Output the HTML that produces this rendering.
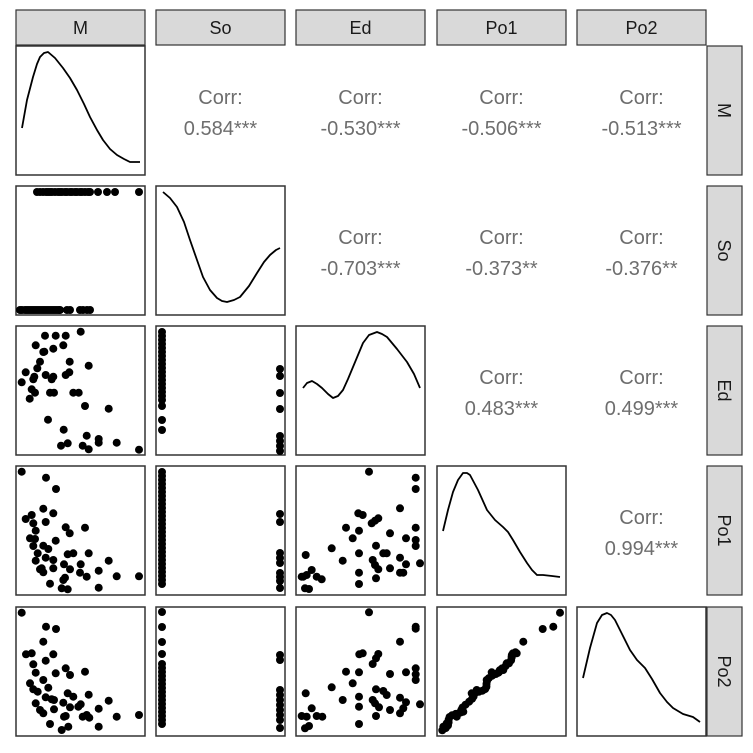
<!DOCTYPE html>
<html><head><meta charset="utf-8"><style>
html,body{margin:0;padding:0;background:#fff;overflow:hidden;}
svg{display:block;font-family:"Liberation Sans",Arial,sans-serif;}
</style></head><body>
<svg id="s" width="753" height="753" viewBox="0 0 753 753" xmlns="http://www.w3.org/2000/svg"></svg>
<script>
const S=document.getElementById('s');let h='';
const cx=[16,156,296,437,577],ry=[46,186,326,466,607],W=129,H=129;
const names=['M','So','Ed','Po1','Po2'];
for(let i=0;i<5;i++){
 h+=`<rect x="${cx[i]}" y="10" width="${W}" height="35" fill="#d9d9d9" stroke="#333" stroke-width="1.2"/>`;
 h+=`<text x="${cx[i]+W/2}" y="34" font-size="18" text-anchor="middle" fill="#1a1a1a">${names[i]}</text>`;
 h+=`<rect x="707" y="${ry[i]}" width="35" height="${H}" fill="#d9d9d9" stroke="#333" stroke-width="1.2"/>`;
 h+=`<text transform="translate(718,${ry[i]+H/2}) rotate(90)" font-size="18" text-anchor="middle" fill="#1a1a1a">${names[i]}</text>`;
}
for(let r=0;r<5;r++)for(let c=0;c<=r;c++)
 h+=`<rect x="${cx[c]}" y="${ry[r]}" width="${W}" height="${H}" fill="#fff" stroke="#333" stroke-width="1.5"/>`;
const corr=[[0,1,'0.584***'],[0,2,'-0.530***'],[0,3,'-0.506***'],[0,4,'-0.513***'],[1,2,'-0.703***'],[1,3,'-0.373**'],[1,4,'-0.376**'],[2,3,'0.483***'],[2,4,'0.499***'],[3,4,'0.994***']];
for(const [r,c,v] of corr){const x=cx[c]+W/2,y=ry[r];
 h+=`<text x="${x}" y="${y+58}" font-size="20" text-anchor="middle" fill="#6e6e6e">Corr:</text>`;
 h+=`<text x="${x}" y="${y+89}" font-size="20" text-anchor="middle" fill="#6e6e6e">${v}</text>`;}
const R=4;
function pts(ox,oy,l){for(let i=0;i<l.length;i+=2)h+=`<circle cx="${(ox+l[i]/3).toFixed(1)}" cy="${(oy+l[i+1]/3).toFixed(1)}" r="${R}" fill="#000"/>`;}
function abs(l){for(let i=0;i<l.length;i+=2)h+=`<circle cx="${l[i]}" cy="${l[i+1]}" r="${R}" fill="#000"/>`;}
let a=[];[37,40,43,46,48,50,52,55,58,60,62,65,67,70,72,75,77,80,82,85,88,90,98,107,115,139].forEach(x=>a.push(x,192));
[20,22,25,27,29,31,33,35,37,39,41,43,45,47,49,51,53,55,57,59,60,67,70,80,83,87,90].forEach(x=>a.push(x,310));abs(a);
pts(0,320,[135,47,167,47,197,47,242,35,107,76,133,95,160,86,190,76,120,125,112,145,209,125,266,137,77,157,103,170,137,165,160,170,155,178,197,165,208,157,65,187,95,208,105,218,150,218,162,218,220,218,236,218,89,236,255,258,326,266,144,299,191,329,260,347,296,357,296,368,350,368,183,377,203,370,248,377,266,388,417,389,100,178,130,96]);
pts(0,320,[65,455,138,473,168,507,130,566,160,580,77,597,95,585,100,610,107,632,137,606,197,622,209,640,255,623,90,655,105,657,167,662,100,678,130,677,145,687,113,700,203,703,220,700,266,700,107,722,137,713,160,720,192,733,160,745,125,745,120,748,210,748,242,733,326,722,240,758,260,770,296,752,350,769,417,769,150,791,190,780,195,773,185,805,203,808,296,803,130,757]);
pts(0,600,[65,38,138,80,168,87,130,125,78,163,95,160,160,163,137,182,100,193,107,218,167,220,197,205,210,225,255,215,130,240,90,250,100,268,113,275,145,263,137,292,155,298,162,300,107,310,120,330,130,340,162,328,190,308,203,280,220,290,266,284,210,322,235,320,242,313,326,302,192,350,197,348,248,350,260,345,268,353,296,326,350,350,417,345,150,372,185,390,205,380,296,380]);
function col(x,ys){let l=[];ys.forEach(y=>l.push(x,y));abs(l);}
let L=[];for(let y=332;y<=400;y+=4)L.push(y);L.push(406,420,430);col(162,L);col(280,[369,376,393,409,436,441,446,451]);
L=[];for(let y=472;y<=585;y+=4)L.push(y);col(162,L);col(280,[514,522,553,558,563,573,577,581,588]);
L=[612,627,642,654];for(let y=664;y<=724;y+=4)L.push(y);col(162,L);col(280,[655,660,690,695,700,705,710,715,720,728]);
pts(290,460,[237,35,377,53,377,87,205,160,218,165,245,190,255,182,265,175,330,145,168,203,207,212,188,235,300,220,377,203,348,235,377,240,377,258,125,265,258,257,207,280,280,280,290,280,47,285,158,302,248,300,255,315,265,328,330,293,348,313,390,310,300,325,330,338,340,338,207,338,258,355,207,372,35,350,50,345,65,330,80,350,95,358,45,385,57,387,40,350]);
pts(290,460,[237,457,377,500,377,506,208,583,218,580,248,612,265,582,258,595,330,545,168,635,207,637,188,670,300,642,348,637,377,625,377,643,377,660,125,682,258,688,280,693,290,705,207,710,47,700,158,720,248,720,255,730,267,742,330,713,348,727,390,733,300,750,330,760,340,745,207,740,258,768,207,792,35,768,50,770,65,745,80,768,97,770,45,805,57,798]);
let P=[];for(let t=0;t<=1.0001;t+=0.025){const x=457+t*(680-457),y=805+t*(580-805);P.push(x+(Math.sin(t*37)*6),y+(Math.cos(t*23)*6));}
P.push(810,458,790,500,758,507,700,545,680,580,665,590,650,610,640,630,605,637,590,660,560,690,545,700,470,790,460,800,500,770,520,755);
pts(290,460,P);
function path(p){h+=`<path d="M${p.join(' L')}" fill="none" stroke="#000" stroke-width="1.8" stroke-linejoin="round"/>`;}
path(['22,128','27,100','33,77','37,64','40,57','44,53','48,52','55,58','63,68','70,78','77,90','84,104','90,117','97,130','103,140','110,149','117,155','124,159','130,162','140,162']);
path(['163,192','170,198','177,207','184,222','190,240','197,260','203,277','210,290','217,298','222,301','227,302','234,300','240,297','249,286','257,273','264,262','270,255','276,250','280,248']);
path(['303,388','307,383','312,381','317,384','322,388','328,394','333,398','338,396','343,390','348,379','353,367','358,355','363,343','369,335','377,332','382,334','387,337','397,349','407,362','414,374','420,388']);
path(['443,531','448,510','453,492','458,480','463,473','467,473','470,475','478,490','487,510','495,520','503,527','508,532','513,540','520,552','527,563','532,570','537,575','543,575','552,576','560,577']);
path(['583,678','590,648','597,623','602,615','607,613','611,615','615,620','622,634','630,650','637,660','645,668','652,679','660,693','667,702','673,708','683,714','693,717','700,722']);
S.innerHTML=h;
</script>
</body></html>
